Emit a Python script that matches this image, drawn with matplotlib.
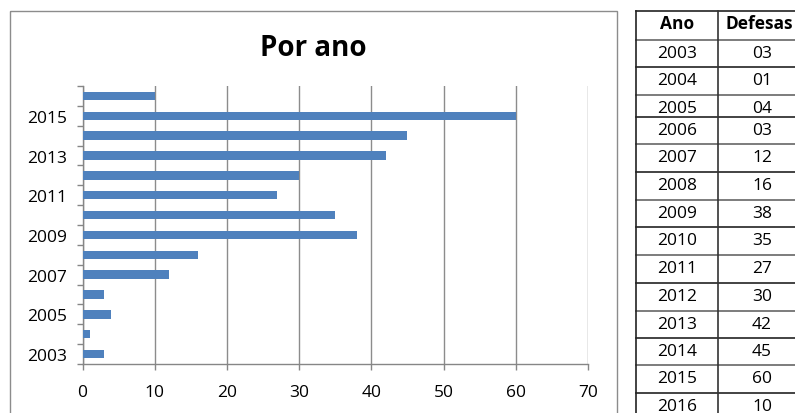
import matplotlib
matplotlib.use("Agg")
from matplotlib import pyplot as plt
from matplotlib.patches import Rectangle
import numpy as np

anos = ["2003", "2004", "2005", "2006", "2007", "2008", "2009",
        "2010", "2011", "2012", "2013", "2014", "2015", "2016"]
defesas = [3, 1, 4, 3, 12, 16, 38, 35, 27, 30, 42, 45, 60, 10]
defesas_txt = ["03", "01", "04", "03", "12", "16", "38",
               "35", "27", "30", "42", "45", "60", "10"]

plt.rcParams['font.family'] = ['Open Sans', 'DejaVu Sans']

W, H = 795, 414
fig = plt.figure(figsize=(W / 100, H / 100), dpi=100)
fig.patch.set_facecolor("white")

# background layer in pixel coords: chart frame + table on the right
bg = fig.add_axes([0, 0, 1, 1], zorder=0)
bg.set_xlim(0, W)
bg.set_ylim(H, 0)
bg.axis("off")
bg.add_patch(Rectangle((10, 12), 607, 420, fill=False, edgecolor="#8c8c8c", lw=1.0))

# table layout (pixels)
row_edges = [12, 41, 68, 96, 118, 145, 173, 201, 228, 256, 284, 312, 339, 366, 394, 430]
tab_left, tab_mid, tab_right = 636, 718, 806
for k, y in enumerate(row_edges[:-1]):
    bg.plot([tab_left, tab_right], [y, y], color="#222222" if k % 2 == 0 else "#666666",
            lw=1.2, clip_on=False)
bg.plot([tab_left, tab_left], [12, 430], color="#222222", lw=1.2, clip_on=False)
bg.plot([tab_mid, tab_mid], [12, 430], color="#333333", lw=1.2, clip_on=False)

fs = 12.5
c1 = (tab_left + tab_mid) / 2
c2 = (tab_mid + tab_right) / 2
bg.text(c1, row_edges[0] + 17, "Ano", ha="center", va="baseline", fontsize=fs,
        fontweight="bold", color="black")
bg.text(W - 2, row_edges[0] + 17, "Defesas", ha="right", va="baseline", fontsize=fs,
        fontweight="bold", color="black")
for k in range(len(anos)):
    y = row_edges[k + 1] + 17
    bg.text(c1, y, anos[k], ha="center", va="baseline", fontsize=fs, color="black")
    bg.text(c2, y, defesas_txt[k], ha="center", va="baseline", fontsize=fs, color="black")

# the bar chart
ax = fig.add_axes([82.5 / W, (H - 365) / H, (588 - 82.5) / W, (365 - 87) / H], zorder=1)
ax.patch.set_alpha(0)
pos = np.arange(len(anos))
ax.barh(pos, defesas, height=0.42, color="#4F81BD", zorder=3)
ax.set_xlim(0, 70)
ax.set_ylim(-0.5, len(anos) - 0.5)
ax.set_xticks(np.arange(0, 71, 10))
ax.set_yticks(pos[::2])
ax.set_yticklabels(anos[::2])
ax.set_yticks(np.arange(-0.5, len(anos), 1), minor=True)
ax.tick_params(axis="y", which="major", length=0, pad=11, labelsize=fs)
ax.tick_params(axis="y", which="minor", length=4.5, width=1, color="#868686", direction="out")
ax.tick_params(axis="x", which="major", length=4.5, width=1, color="#868686", pad=10,
               labelsize=fs)
ax.grid(axis="x", color="#8c8c8c", lw=1, zorder=0)
for s in ["top", "right"]:
    ax.spines[s].set_visible(False)
for s in ["left", "bottom"]:
    ax.spines[s].set_color("#868686")
    ax.spines[s].set_linewidth(1)

fig.text(313 / W, 1 - 56 / H, "Por ano", ha="center", va="baseline", fontsize=20,
         fontweight="bold", color="black")

fig.savefig("out.png", dpi=100)
